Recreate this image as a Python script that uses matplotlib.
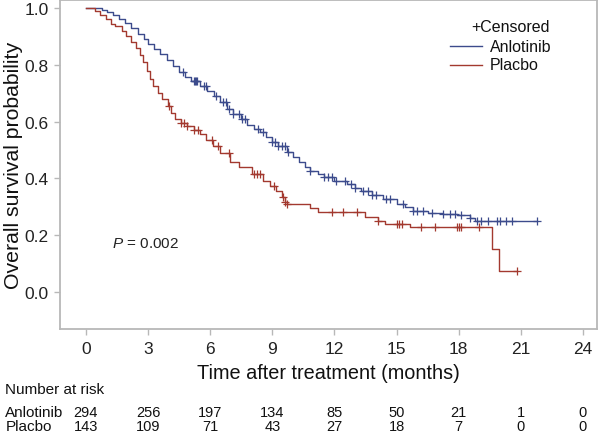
import numpy as np
import matplotlib
matplotlib.use('agg')
import matplotlib.pyplot as plt
from matplotlib.lines import Line2D
import matplotlib.transforms as mtransforms

plt.rcParams['font.family'] = ['Liberation Sans', 'DejaVu Sans']
plt.rcParams['mathtext.fontset'] = 'custom'
plt.rcParams['mathtext.it'] = 'Liberation Sans:italic'
plt.rcParams['mathtext.rm'] = 'Liberation Sans'

# Kaplan-Meier step values (months, survival)
anlo_t = [0, 0.8, 1.0, 1.3, 1.6, 1.9, 2.2, 2.5, 2.8, 3.0, 3.3, 3.6, 3.9, 4.2, 4.5, 4.8,
          5.1, 5.5, 5.85, 6.2, 6.5, 6.8, 7.1, 7.5, 7.8, 8.1, 8.4, 8.7, 9.0, 9.3, 9.7,
          10.0, 10.3, 10.6, 10.8, 11.2, 11.5, 12.0, 12.6, 13.0, 13.3, 13.8, 14.35, 15.0,
          15.4, 15.8, 16.5, 17.25, 17.9, 18.55, 18.8, 21.8]
anlo_s = [1.0, 0.993, 0.986, 0.976, 0.962, 0.948, 0.93, 0.91, 0.89, 0.875, 0.855, 0.838,
          0.818, 0.795, 0.775, 0.758, 0.742, 0.725, 0.708, 0.69, 0.67, 0.645, 0.628, 0.608,
          0.59, 0.575, 0.562, 0.546, 0.53, 0.515, 0.493, 0.475, 0.458, 0.44, 0.426, 0.415,
          0.405, 0.39, 0.38, 0.368, 0.356, 0.342, 0.327, 0.31, 0.298, 0.285, 0.28, 0.275,
          0.27, 0.262, 0.25, 0.25]
plac_t = [0, 0.45, 0.7, 0.95, 1.2, 1.4, 1.75, 1.95, 2.2, 2.4, 2.6, 2.75, 2.95, 3.1, 3.25,
          3.5, 3.7, 3.95, 4.1, 4.3, 4.6, 4.9, 5.2, 5.5, 5.8, 6.15, 6.5, 6.96, 7.4, 8.0,
          8.55, 8.9, 9.2, 9.45, 9.6, 9.7, 10.8, 11.2, 13.5, 14.1, 14.45, 15.65, 19.6,
          19.95, 20.8]
plac_s = [1.0, 0.99, 0.975, 0.96, 0.945, 0.937, 0.92, 0.9, 0.88, 0.86, 0.835, 0.81, 0.78,
          0.75, 0.725, 0.7, 0.68, 0.655, 0.63, 0.61, 0.595, 0.585, 0.57, 0.556, 0.535,
          0.514, 0.49, 0.458, 0.44, 0.415, 0.39, 0.372, 0.356, 0.335, 0.317, 0.31, 0.296,
          0.282, 0.264, 0.25, 0.239, 0.229, 0.151, 0.074, 0.074]

# censored times
anlo_cens = [4.7, 5.2, 5.25, 5.3, 5.35, 5.7, 5.8, 6.3, 6.6, 6.75, 6.9, 7.1, 7.4, 7.55, 7.7,
             8.3, 8.55, 9.0, 9.15, 9.3, 9.45, 9.6, 9.75, 10.8, 11.5, 11.7, 11.9, 12.1,
             12.5, 12.8, 13.0, 13.4, 13.6, 13.8, 14.0, 14.5, 14.7, 15.3, 15.8, 16.0, 16.3,
             16.7, 17.25, 17.6, 17.8, 18.1, 18.55, 18.9, 19.1, 19.4, 19.85, 20.0, 20.3,
             20.6, 21.8]
plac_cens = [4.0, 4.6, 4.75, 4.9, 5.2, 5.4, 6.1, 6.4, 6.9, 8.1, 8.25, 8.4, 9.1, 9.5, 9.6,
             9.7, 11.9, 12.4, 13.1, 14.1, 15.0, 15.1, 15.25, 16.2, 16.85, 17.9, 18.0,
             18.1, 19.0, 20.8]

risk_times = [0, 3, 6, 9, 12, 15, 18, 21, 24]
risk_anlo = [294, 256, 197, 134, 85, 50, 21, 1, 0]
risk_plac = [143, 109, 71, 43, 27, 18, 7, 0, 0]

blue = '#3c4b8c'
red = '#a3392f'
W, H = 598, 435


def surv_at(times, t_steps, s_steps):
    idx = np.searchsorted(t_steps, times, side='right') - 1
    return np.asarray(s_steps)[idx]


fig = plt.figure(figsize=(W / 100, H / 100), dpi=100)
ax = fig.add_axes([0.1003, 0.2414, 0.898, 0.756])

ax.step(anlo_t, anlo_s, where='post', color=blue, lw=1.0)
ax.step(plac_t, plac_s, where='post', color=red, lw=1.0)
ax.plot(anlo_cens, surv_at(anlo_cens, anlo_t, anlo_s), '+', color=blue, ms=6, mew=0.9)
ax.plot(plac_cens, surv_at(plac_cens, plac_t, plac_s), '+', color=red, ms=6, mew=0.9)

ax.set_xlim(-1.25, 24.68)
ax.set_ylim(-0.13, 1.028)
ax.set_xticks(risk_times)
ax.set_yticks([0.0, 0.2, 0.4, 0.6, 0.8, 1.0])
ax.yaxis.set_major_formatter(plt.FormatStrFormatter('%.1f'))
for sp in ax.spines.values():
    sp.set_color('#b8b8b8')
    sp.set_linewidth(1.3)
ax.tick_params(colors='#b8b8b8', labelcolor='#222222', labelsize=12.5, length=4, width=1)
ax.tick_params(axis='x', pad=5)
ax.tick_params(axis='y', pad=4)

ax.set_xlabel('Time after treatment (months)', fontsize=14.3, color='#111111', labelpad=5)
ax.set_ylabel('Overall survival probability', fontsize=15.3, color='#111111', labelpad=1)

ax.text(1.25, 0.16, r'$\mathit{P}$ = 0.002', fontsize=11, color='#222222')

# legend drawn by hand, right aligned like the original
fig.text(550 / W, 1 - 27 / H, '+Censored', fontsize=11.5, ha='right', va='center',
         color='#111111')
for yy, c, lab in [(47, blue, 'Anlotinib'), (66, red, 'Placbo')]:
    fig.add_artist(Line2D([450 / W, 482 / W], [1 - yy / H, 1 - yy / H], color=c, lw=1.0))
    fig.text(490 / W, 1 - yy / H, lab, fontsize=11.5, ha='left', va='center',
             color='#111111')

# number at risk table
tr = mtransforms.blended_transform_factory(ax.transData, fig.transFigure)
fig.text(0.009, 1 - 390 / H, 'Number at risk', fontsize=11, va='center', color='#111111')
fig.text(0.009, 1 - 413 / H, 'Anlotinib', fontsize=11, va='center', color='#111111')
fig.text(0.009, 1 - 427 / H, 'Placbo', fontsize=11, va='center', color='#111111')
for t, a, p in zip(risk_times, risk_anlo, risk_plac):
    ax.text(t, 1 - 413 / H, str(a), transform=tr, ha='center', va='center',
            fontsize=10.5, color='#111111')
    ax.text(t, 1 - 427 / H, str(p), transform=tr, ha='center', va='center',
            fontsize=10.5, color='#111111')

fig.savefig('out.png', dpi=100)
